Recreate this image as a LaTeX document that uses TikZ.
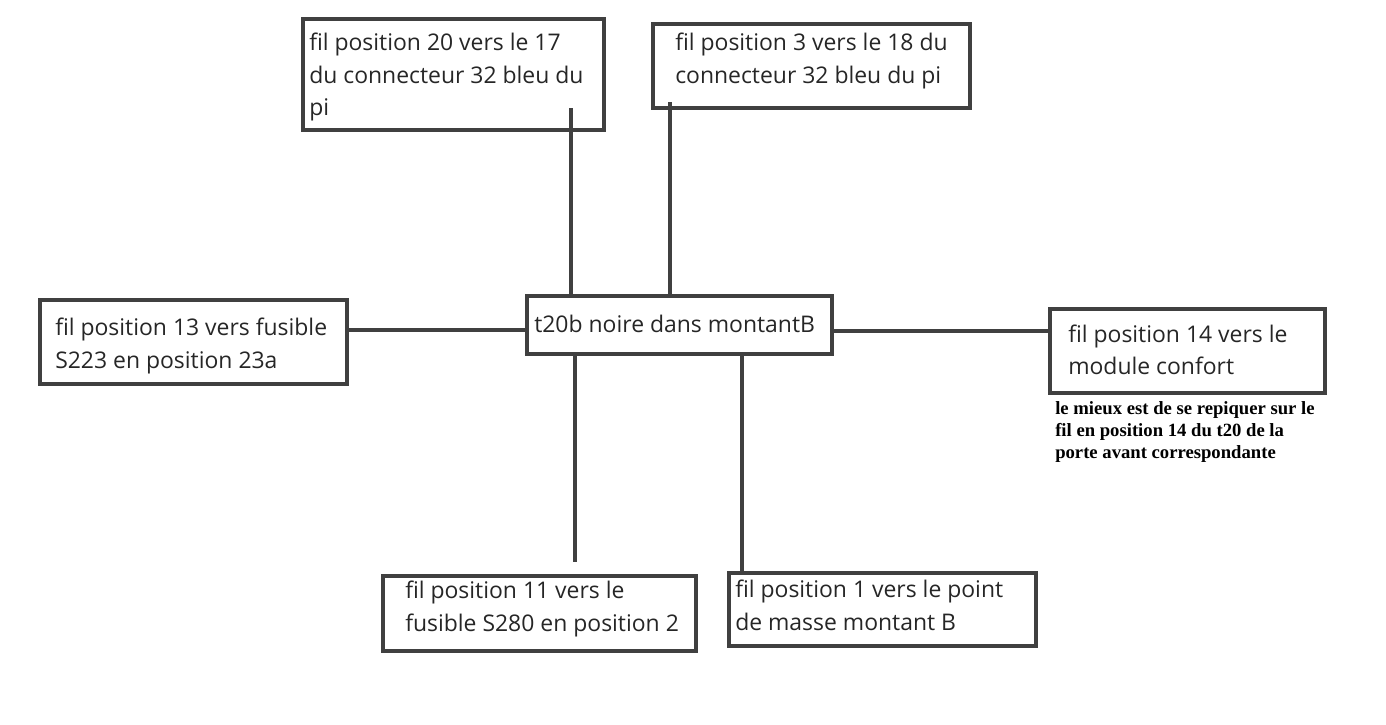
\documentclass[tikz,border=0pt]{standalone}
\usepackage{fontspec}
\setmainfont{Open Sans}
\newfontfamily\notefont{Liberation Serif}
\begin{document}
\begin{tikzpicture}[x=0.75pt,y=-0.75pt,
  box/.style={draw=black!75,line width=2.3pt},
  txt/.style={anchor=west,align=left,inner sep=0pt,font=\fontsize{17.2}{24.5}\selectfont,text=black!85},
  wire/.style={draw=black!75,line width=3pt}]
\useasboundingbox (0,0) rectangle (1386,725);
\draw[box] (303,19) rectangle (604,130);
\draw[box] (653,24) rectangle (970,108);
\draw[box] (527,296) rectangle (832,354);
\draw[box] (40,300) rectangle (347,384);
\draw[box] (1050,309) rectangle (1325,393);
\draw[box] (383,576) rectangle (696,651);
\draw[box] (729,573) rectangle (1036,646);
\node[txt] (a) at (309,77) {fil position 20 vers le 17\\du connecteur 32 bleu du\\pi};
\node[txt] (b) at (675,61) {fil position 3 vers le 18 du\\connecteur 32 bleu du pi};
\node[txt] (c) at (534,324) {t20b noire dans montantB};
\node[txt] (d) at (55,346) {fil position 13 vers fusible\\S223 en position 23a};
\node[txt] (e) at (1068,350) {fil position 14 vers le\\module confort};
\node[txt] (f) at (405,609) {fil position 11 vers le\\fusible S280 en position 2};
\node[txt] (g) at (735,605) {fil position 1 vers le point\\de masse montant B};
\node[anchor=north west,align=left,inner sep=0pt,font=\notefont\bfseries\fontsize{14}{16.5}\selectfont] (n) at (1055,401)
 {le mieux est de se repiquer sur le\\fil en position 14 du t20 de la\\porte avant correspondante};
\coordinate (a1) at (571,108); \coordinate (a2) at (571,298);
\coordinate (b1) at (670,102); \coordinate (b2) at (670,296);
\coordinate (d1) at (345,330); \coordinate (d2) at (527,330);
\coordinate (e1) at (832,331); \coordinate (e2) at (1052,331);
\coordinate (f1) at (575,354); \coordinate (f2) at (575,562);
\coordinate (g1) at (742,354); \coordinate (g2) at (742,573);
\draw[wire] (a1) -- (a2);
\draw[wire] (b1) -- (b2);
\draw[wire] (d1) -- (d2);
\draw[wire] (e1) -- (e2);
\draw[wire] (f1) -- (f2);
\draw[wire] (g1) -- (g2);
\end{tikzpicture}
\end{document}
